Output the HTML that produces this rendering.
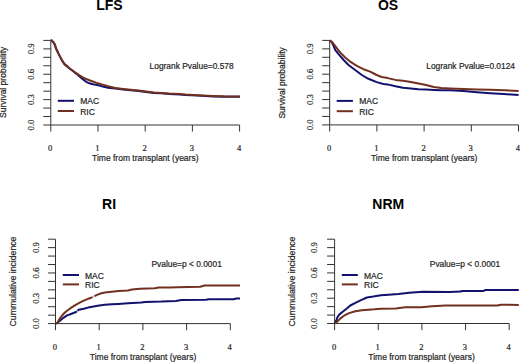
<!DOCTYPE html>
<html><head><meta charset="utf-8"><style>
html,body{margin:0;padding:0;background:#fff;}
body{width:520px;height:362px;overflow:hidden;}
svg{display:block;}
text{stroke:#2a2a2a;stroke-width:0.2px;}
</style></head><body>
<svg width="520" height="362" viewBox="0 0 520 362">
<rect width="520" height="362" fill="#fff"/>
<text x="109.5" y="10.2" font-family='"Liberation Sans", sans-serif' font-weight="bold" font-size="14" text-anchor="middle" fill="#000" style="stroke:none">LFS</text>
<path d="M50.80,40.40V125.00M43.30,125.00H50.80M43.30,116.54H50.80M43.30,108.08H50.80M43.30,99.62H50.80M43.30,91.16H50.80M43.30,82.70H50.80M43.30,74.24H50.80M43.30,65.78H50.80M43.30,57.32H50.80M43.30,48.86H50.80M43.30,40.40H50.80M50.80,125.00H239.60M50.80,125.00V131.60M98.00,125.00V131.60M145.20,125.00V131.60M192.40,125.00V131.60M239.60,125.00V131.60" fill="none" stroke="#333" stroke-width="1"/>
<text x="50.20" y="150.9" font-family='"Liberation Serif", serif' font-size="8.5" text-anchor="middle" fill="#222">0</text>
<text x="97.40" y="150.9" font-family='"Liberation Serif", serif' font-size="8.5" text-anchor="middle" fill="#222">1</text>
<text x="144.60" y="150.9" font-family='"Liberation Serif", serif' font-size="8.5" text-anchor="middle" fill="#222">2</text>
<text x="191.80" y="150.9" font-family='"Liberation Serif", serif' font-size="8.5" text-anchor="middle" fill="#222">3</text>
<text x="239.00" y="150.9" font-family='"Liberation Serif", serif' font-size="8.5" text-anchor="middle" fill="#222">4</text>
<text transform="translate(34.3,125.00) rotate(-90)" font-family='"Liberation Serif", serif' font-size="8.7" text-anchor="middle" fill="#222">0.0</text>
<text transform="translate(34.3,99.62) rotate(-90)" font-family='"Liberation Serif", serif' font-size="8.7" text-anchor="middle" fill="#222">0.3</text>
<text transform="translate(34.3,74.24) rotate(-90)" font-family='"Liberation Serif", serif' font-size="8.7" text-anchor="middle" fill="#222">0.6</text>
<text transform="translate(34.3,48.86) rotate(-90)" font-family='"Liberation Serif", serif' font-size="8.7" text-anchor="middle" fill="#222">0.9</text>
<text x="145.3" y="160.8" font-family='"Liberation Sans", sans-serif' font-size="8.5" text-anchor="middle" fill="#222">Time from transplant (years)</text>
<text transform="translate(6.4,82.3) rotate(-90)" font-family='"Liberation Sans", sans-serif' font-size="8.5" text-anchor="middle" fill="#222">Survival probability</text>
<text x="149.6" y="69" font-family='"Liberation Sans", sans-serif' font-size="8.4" fill="#222">Logrank Pvalue=0.578</text>
<line x1="57.8" y1="100.8" x2="74" y2="100.8" stroke="#12126e" stroke-width="2.0"/>
<line x1="57.8" y1="111" x2="74" y2="111" stroke="#72301f" stroke-width="2.0"/>
<text x="80.2" y="104.3" font-family='"Liberation Sans", sans-serif' font-size="8.5" fill="#222">MAC</text>
<text x="80.2" y="114.5" font-family='"Liberation Sans", sans-serif' font-size="8.5" fill="#222">RIC</text>
<polyline points="50.80,40.40 51.50,40.40 52.10,41.10 53.80,42.80 55.00,45.30 56.00,48.60 57.10,50.80 58.80,54.40 60.40,57.40 62.10,60.70 64.60,64.40 67.10,66.40 69.50,68.50 72.90,71.00 76.20,73.60 79.50,76.40 82.80,79.30 86.10,81.80 89.40,83.30 92.80,84.20 96.10,84.70 99.40,85.50 102.70,86.60 108.00,87.70 115.40,88.60 123.00,89.40 130.80,90.20 138.50,91.00 146.00,92.00 153.80,93.00 161.50,93.30 169.00,94.00 180.00,94.50 185.40,95.00 197.70,95.60 213.00,96.40 223.80,96.70 240.00,96.80" fill="none" stroke="#12126e" stroke-width="2.0" stroke-linejoin="round"/>
<polyline points="50.80,40.20 51.50,40.20 52.10,40.90 53.80,42.50 55.00,45.00 56.00,48.30 57.10,50.50 58.80,54.10 60.40,57.10 62.10,60.40 64.60,64.10 67.10,66.10 69.50,68.20 72.90,70.70 76.20,73.20 79.50,75.30 82.80,77.30 86.10,79.00 89.40,80.30 92.80,81.50 96.10,82.60 102.70,84.60 108.00,86.10 115.40,88.00 123.00,88.90 130.80,89.70 138.50,90.50 146.00,91.50 153.80,92.40 161.50,92.90 169.00,93.60 180.00,94.10 185.40,94.60 197.70,95.20 213.00,95.90 223.80,96.30 240.00,96.50" fill="none" stroke="#72301f" stroke-width="2.0" stroke-linejoin="round"/>
<text x="388.1" y="10.4" font-family='"Liberation Sans", sans-serif' font-weight="bold" font-size="14" text-anchor="middle" fill="#000" style="stroke:none">OS</text>
<path d="M329.70,40.40V124.90M322.20,124.90H329.70M322.20,116.45H329.70M322.20,108.00H329.70M322.20,99.55H329.70M322.20,91.10H329.70M322.20,82.65H329.70M322.20,74.20H329.70M322.20,65.75H329.70M322.20,57.30H329.70M322.20,48.85H329.70M322.20,40.40H329.70M329.70,124.90H518.50M329.70,124.90V131.50M376.90,124.90V131.50M424.10,124.90V131.50M471.30,124.90V131.50M518.50,124.90V131.50" fill="none" stroke="#333" stroke-width="1"/>
<text x="329.10" y="150.9" font-family='"Liberation Serif", serif' font-size="8.5" text-anchor="middle" fill="#222">0</text>
<text x="376.30" y="150.9" font-family='"Liberation Serif", serif' font-size="8.5" text-anchor="middle" fill="#222">1</text>
<text x="423.50" y="150.9" font-family='"Liberation Serif", serif' font-size="8.5" text-anchor="middle" fill="#222">2</text>
<text x="470.70" y="150.9" font-family='"Liberation Serif", serif' font-size="8.5" text-anchor="middle" fill="#222">3</text>
<text x="517.90" y="150.9" font-family='"Liberation Serif", serif' font-size="8.5" text-anchor="middle" fill="#222">4</text>
<text transform="translate(312.9,124.90) rotate(-90)" font-family='"Liberation Serif", serif' font-size="8.7" text-anchor="middle" fill="#222">0.0</text>
<text transform="translate(312.9,99.55) rotate(-90)" font-family='"Liberation Serif", serif' font-size="8.7" text-anchor="middle" fill="#222">0.3</text>
<text transform="translate(312.9,74.20) rotate(-90)" font-family='"Liberation Serif", serif' font-size="8.7" text-anchor="middle" fill="#222">0.6</text>
<text transform="translate(312.9,48.85) rotate(-90)" font-family='"Liberation Serif", serif' font-size="8.7" text-anchor="middle" fill="#222">0.9</text>
<text x="424.2" y="160.8" font-family='"Liberation Sans", sans-serif' font-size="8.5" text-anchor="middle" fill="#222">Time from transplant (years)</text>
<text transform="translate(285.4,82.9) rotate(-90)" font-family='"Liberation Sans", sans-serif' font-size="8.5" text-anchor="middle" fill="#222">Survival probability</text>
<text x="426.3" y="68.8" font-family='"Liberation Sans", sans-serif' font-size="8.4" fill="#222">Logrank Pvalue=0.0124</text>
<line x1="336.7" y1="100.9" x2="352.9" y2="100.9" stroke="#12126e" stroke-width="2.0"/>
<line x1="336.7" y1="111.2" x2="352.9" y2="111.2" stroke="#72301f" stroke-width="2.0"/>
<text x="359.2" y="104.4" font-family='"Liberation Sans", sans-serif' font-size="8.5" fill="#222">MAC</text>
<text x="359.2" y="114.6" font-family='"Liberation Sans", sans-serif' font-size="8.5" fill="#222">RIC</text>
<polyline points="329.70,40.40 332.00,42.60 333.60,46.00 335.30,50.10 338.60,54.20 343.60,60.00 348.50,65.00 355.20,70.00 361.80,75.00 368.40,78.80 376.70,82.10 383.40,84.00 387.70,84.40 395.40,86.20 403.00,87.80 410.80,88.40 418.50,89.20 426.00,89.60 433.80,89.90 441.50,90.30 450.00,90.30 463.50,90.90 477.00,92.20 490.40,93.20 503.80,94.10 518.60,94.90" fill="none" stroke="#12126e" stroke-width="2.0" stroke-linejoin="round"/>
<polyline points="329.70,40.40 332.00,41.80 334.50,45.10 337.00,48.40 340.30,52.60 345.20,57.50 350.20,61.70 356.80,65.80 363.50,69.20 370.10,71.60 376.70,75.00 381.70,77.00 387.70,78.10 395.40,79.90 403.00,80.80 410.80,81.90 418.50,83.50 426.00,85.00 433.80,87.00 441.50,88.10 450.00,88.60 463.50,89.10 477.00,89.50 490.40,89.80 503.80,90.20 518.60,90.90" fill="none" stroke="#72301f" stroke-width="2.0" stroke-linejoin="round"/>
<text x="109.1" y="209" font-family='"Liberation Sans", sans-serif' font-weight="bold" font-size="14" text-anchor="middle" fill="#000" style="stroke:none">RI</text>
<path d="M55.50,239.20V323.60M48.00,323.60H55.50M48.00,315.16H55.50M48.00,306.72H55.50M48.00,298.28H55.50M48.00,289.84H55.50M48.00,281.40H55.50M48.00,272.96H55.50M48.00,264.52H55.50M48.00,256.08H55.50M48.00,247.64H55.50M48.00,239.20H55.50M55.50,323.60H230.30M55.50,323.60V330.20M99.20,323.60V330.20M142.90,323.60V330.20M186.60,323.60V330.20M230.30,323.60V330.20" fill="none" stroke="#333" stroke-width="1"/>
<text x="54.90" y="349.5" font-family='"Liberation Serif", serif' font-size="8.5" text-anchor="middle" fill="#222">0</text>
<text x="98.60" y="349.5" font-family='"Liberation Serif", serif' font-size="8.5" text-anchor="middle" fill="#222">1</text>
<text x="142.30" y="349.5" font-family='"Liberation Serif", serif' font-size="8.5" text-anchor="middle" fill="#222">2</text>
<text x="186.00" y="349.5" font-family='"Liberation Serif", serif' font-size="8.5" text-anchor="middle" fill="#222">3</text>
<text x="229.70" y="349.5" font-family='"Liberation Serif", serif' font-size="8.5" text-anchor="middle" fill="#222">4</text>
<text transform="translate(38.6,323.60) rotate(-90)" font-family='"Liberation Serif", serif' font-size="8.7" text-anchor="middle" fill="#222">0.0</text>
<text transform="translate(38.6,298.28) rotate(-90)" font-family='"Liberation Serif", serif' font-size="8.7" text-anchor="middle" fill="#222">0.3</text>
<text transform="translate(38.6,272.96) rotate(-90)" font-family='"Liberation Serif", serif' font-size="8.7" text-anchor="middle" fill="#222">0.6</text>
<text transform="translate(38.6,247.64) rotate(-90)" font-family='"Liberation Serif", serif' font-size="8.7" text-anchor="middle" fill="#222">0.9</text>
<text x="143" y="359.6" font-family='"Liberation Sans", sans-serif' font-size="8.5" text-anchor="middle" fill="#222">Time from transplant (years)</text>
<text transform="translate(16.3,281.5) rotate(-90)" font-family='"Liberation Sans", sans-serif' font-size="8.7" text-anchor="middle" fill="#222">Cummulative incidence</text>
<text x="151.5" y="267" font-family='"Liberation Sans", sans-serif' font-size="8.4" fill="#222">Pvalue=p &lt; 0.0001</text>
<line x1="62.8" y1="275" x2="79" y2="275" stroke="#12126e" stroke-width="2.0"/>
<line x1="62.8" y1="284.4" x2="79" y2="284.4" stroke="#72301f" stroke-width="2.0"/>
<text x="85" y="278.6" font-family='"Liberation Sans", sans-serif' font-size="8.5" fill="#222">MAC</text>
<text x="85" y="288.4" font-family='"Liberation Sans", sans-serif' font-size="8.5" fill="#222">RIC</text>
<polyline points="55.50,323.60 57.20,323.10 60.50,320.30 63.80,317.60 67.10,315.40 71.60,313.70 76.00,312.00 76.80,311.30" fill="none" stroke="#12126e" stroke-width="2.0" stroke-linejoin="round"/>
<polyline points="76.80,311.30 77.60,310.60" fill="none" stroke="#12126e" stroke-width="2.0" stroke-linejoin="round" stroke-opacity="0.35"/>
<polyline points="77.60,310.60 78.70,309.80 83.70,308.70 88.10,307.60 93.60,306.50 99.20,305.40 105.00,304.80 111.70,304.30 118.50,303.90 127.90,303.30 141.30,302.60 145.40,301.90 161.50,301.60 168.30,301.20 175.80,301.00 181.50,300.00 206.00,299.80 209.00,299.20 233.50,299.20 236.30,298.50 240.00,298.50" fill="none" stroke="#12126e" stroke-width="2.0" stroke-linejoin="round"/>
<polyline points="55.50,323.60 57.20,323.10 59.40,319.20 62.70,314.80 66.00,311.50 70.50,308.20 74.90,305.40 79.30,302.90 83.70,300.70 88.10,298.80 91.40,297.70 92.40,297.20" fill="none" stroke="#72301f" stroke-width="2.0" stroke-linejoin="round"/>
<polyline points="92.40,297.20 94.50,296.20" fill="none" stroke="#72301f" stroke-width="2.0" stroke-linejoin="round" stroke-opacity="0.35"/>
<polyline points="94.50,296.20 97.00,294.90 101.40,293.30 105.00,292.60 111.70,291.80 118.50,290.90 127.90,290.50 131.90,289.50 140.00,288.70 154.80,288.20 158.80,287.40 170.00,287.50 177.20,287.30 200.30,286.80 204.60,285.50 240.00,285.50" fill="none" stroke="#72301f" stroke-width="2.0" stroke-linejoin="round"/>
<text x="388.3" y="209" font-family='"Liberation Sans", sans-serif' font-weight="bold" font-size="14" text-anchor="middle" fill="#000" style="stroke:none">NRM</text>
<path d="M334.60,239.20V323.50M327.10,323.50H334.60M327.10,315.07H334.60M327.10,306.64H334.60M327.10,298.21H334.60M327.10,289.78H334.60M327.10,281.35H334.60M327.10,272.92H334.60M327.10,264.49H334.60M327.10,256.06H334.60M327.10,247.63H334.60M327.10,239.20H334.60M334.60,323.50H509.20M334.60,323.50V330.10M378.25,323.50V330.10M421.90,323.50V330.10M465.55,323.50V330.10M509.20,323.50V330.10" fill="none" stroke="#333" stroke-width="1"/>
<text x="334.00" y="349.5" font-family='"Liberation Serif", serif' font-size="8.5" text-anchor="middle" fill="#222">0</text>
<text x="377.65" y="349.5" font-family='"Liberation Serif", serif' font-size="8.5" text-anchor="middle" fill="#222">1</text>
<text x="421.30" y="349.5" font-family='"Liberation Serif", serif' font-size="8.5" text-anchor="middle" fill="#222">2</text>
<text x="464.95" y="349.5" font-family='"Liberation Serif", serif' font-size="8.5" text-anchor="middle" fill="#222">3</text>
<text x="508.60" y="349.5" font-family='"Liberation Serif", serif' font-size="8.5" text-anchor="middle" fill="#222">4</text>
<text transform="translate(317.2,323.50) rotate(-90)" font-family='"Liberation Serif", serif' font-size="8.7" text-anchor="middle" fill="#222">0.0</text>
<text transform="translate(317.2,298.21) rotate(-90)" font-family='"Liberation Serif", serif' font-size="8.7" text-anchor="middle" fill="#222">0.3</text>
<text transform="translate(317.2,272.92) rotate(-90)" font-family='"Liberation Serif", serif' font-size="8.7" text-anchor="middle" fill="#222">0.6</text>
<text transform="translate(317.2,247.63) rotate(-90)" font-family='"Liberation Serif", serif' font-size="8.7" text-anchor="middle" fill="#222">0.9</text>
<text x="421.5" y="359.6" font-family='"Liberation Sans", sans-serif' font-size="8.5" text-anchor="middle" fill="#222">Time from transplant (years)</text>
<text transform="translate(295.3,281.5) rotate(-90)" font-family='"Liberation Sans", sans-serif' font-size="8.7" text-anchor="middle" fill="#222">Cummulative incidence</text>
<text x="429.8" y="267" font-family='"Liberation Sans", sans-serif' font-size="8.4" fill="#222">Pvalue=p &lt; 0.0001</text>
<line x1="341.8" y1="275" x2="357.8" y2="275" stroke="#12126e" stroke-width="2.0"/>
<line x1="341.8" y1="284.4" x2="357.8" y2="284.4" stroke="#72301f" stroke-width="2.0"/>
<text x="364" y="278.6" font-family='"Liberation Sans", sans-serif' font-size="8.5" fill="#222">MAC</text>
<text x="364" y="288.4" font-family='"Liberation Sans", sans-serif' font-size="8.5" fill="#222">RIC</text>
<polyline points="334.60,323.50 336.40,320.10 337.60,316.90 339.50,314.40 342.70,311.80 346.50,308.70 350.30,305.50 355.40,302.90 360.50,300.40 366.90,297.50 373.20,296.60 380.80,295.30 385.00,295.00 391.70,294.50 398.50,294.10 409.20,292.70 422.70,291.70 450.00,291.90 460.80,291.60 462.10,291.00 483.60,291.00 485.00,290.10 518.80,290.10" fill="none" stroke="#12126e" stroke-width="2.0" stroke-linejoin="round"/>
<polyline points="334.60,323.50 337.60,321.40 340.20,318.60 344.00,315.70 349.00,313.10 355.40,311.20 361.80,310.20 368.10,309.70 374.50,309.30 380.80,308.70 395.80,308.60 405.20,307.20 421.30,307.20 432.10,306.20 445.60,305.50 497.10,305.50 501.10,304.80 518.80,304.90" fill="none" stroke="#72301f" stroke-width="2.0" stroke-linejoin="round"/>
</svg>
</body></html>
